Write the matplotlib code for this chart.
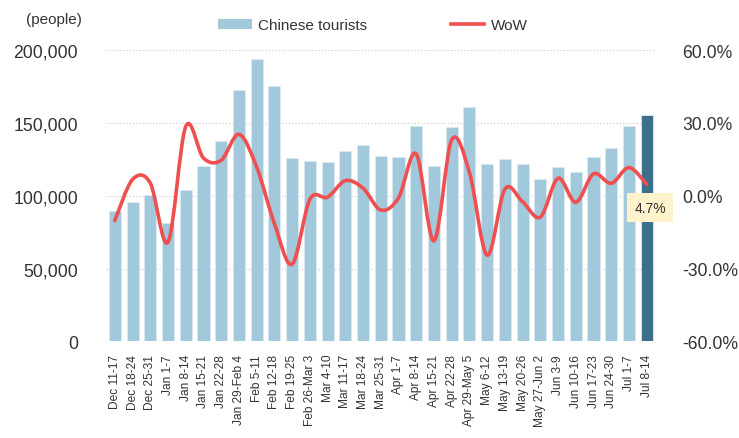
import numpy as np
import matplotlib
matplotlib.use("Agg")
from matplotlib import pyplot as plt
from matplotlib.path import Path
from matplotlib.patches import PathPatch, Patch
from matplotlib.lines import Line2D
from matplotlib.ticker import FuncFormatter

plt.rcParams['font.family'] = ['Liberation Sans', 'DejaVu Sans']

# weekly data
weeks = ["Dec 11-17", "Dec 18-24", "Dec 25-31", "Jan 1-7", "Jan 8-14", "Jan 15-21",
         "Jan 22-28", "Jan 29-Feb 4", "Feb 5-11", "Feb 12-18", "Feb 19-25",
         "Feb 26-Mar 3", "Mar 4-10", "Mar 11-17", "Mar 18-24", "Mar 25-31",
         "Apr 1-7", "Apr 8-14", "Apr 15-21", "Apr 22-28", "Apr 29-May 5",
         "May 6-12", "May 13-19", "May 20-26", "May 27-Jun 2", "Jun 3-9",
         "Jun 10-16", "Jun 17-23", "Jun 24-30", "Jul 1-7", "Jul 8-14"]
tourists = [89600, 95600, 100600, 81400, 104100, 120100, 137400, 172400, 193700,
            175600, 125800, 123500, 122800, 130600, 134900, 127200, 126300, 147900,
            120100, 147100, 161000, 121700, 124900, 121900, 111200, 119400, 116000,
            126300, 132600, 147900, 155100]
wow = [-10.2, 6.7, 5.2, -19.1, 28.5, 15.5, 14.6, 25.3, 11.8, -11.5, -28.2, -1.5,
       -0.6, 6.2, 3.1, -5.9, -0.9, 17.2, -18.6, 23.0, 9.6, -24.5, 2.7, -2.5, -8.8,
       7.2, -2.7, 9.0, 5.1, 11.6, 4.7]

left_ticks = [0, 50000, 100000, 150000, 200000]
right_ticks = [-60, -30, 0, 30, 60]

bar_color = "#a2c8dc"
last_color = "#3d6e8c"
line_color = "#ef4f4f"
text_color = "#333333"

fig = plt.figure(figsize=(7.39, 4.39), dpi=100)
ax = fig.add_axes([0.1434, 0.22, 0.7437, 0.6638])
ax2 = ax.twinx()

x = np.arange(len(weeks))
colors = [bar_color] * (len(weeks) - 1) + [last_color]
ax.bar(x, tourists, width=0.68, color=colors, edgecolor="#dbe9f0", linewidth=0.6, zorder=2)

ax.set_xlim(-0.5, len(weeks) - 0.5)
ax.set_ylim(0, 200000)
ax.set_yticks(left_ticks)
ax.yaxis.set_major_formatter(FuncFormatter(lambda v, p: f"{v:,.0f}"))
ax.grid(axis="y", color="#cfcfcf", linestyle=":", linewidth=0.9, zorder=0)
ax.set_axisbelow(True)
ax.set_xticks(x)
ax.set_xticklabels(weeks, rotation=90, fontsize=8.6, color=text_color)
ax.tick_params(axis="x", length=0, pad=9)
ax.tick_params(axis="y", length=0, pad=20, labelsize=12.7, labelcolor=text_color)

# smooth WoW line through the points (bezier, like spreadsheet smoothing)
pts = np.column_stack([x, np.array(wow) / 100.0])
verts = [pts[0]]
codes = [Path.MOVETO]
n = len(pts)
for i in range(n - 1):
    p0 = pts[i - 1] if i > 0 else pts[i]
    p1 = pts[i]
    p2 = pts[i + 1]
    p3 = pts[i + 2] if i + 2 < n else pts[i + 1]
    verts += [p1 + (p2 - p0) / 6.0, p2 - (p3 - p1) / 6.0, p2]
    codes += [Path.CURVE4] * 3
ax2.add_patch(PathPatch(Path(verts, codes), fill=False, edgecolor=line_color,
                        linewidth=2.6, capstyle="round", joinstyle="round", zorder=3))

ax2.set_ylim(-0.6, 0.6)
ax2.set_yticks([t / 100.0 for t in right_ticks])
ax2.yaxis.set_major_formatter(FuncFormatter(lambda v, p: f"{v*100:.1f}%"))
ax2.tick_params(axis="y", length=0, pad=19.4, labelsize=12.7, labelcolor=text_color)

for a in (ax, ax2):
    for s in a.spines.values():
        s.set_visible(False)

ax2.annotate(f"{wow[-1]:.1f}%", xy=(x[-1], wow[-1] / 100.0), xytext=(2.4, -16.8),
             textcoords="offset points", ha="center", va="center", fontsize=10,
             color=text_color, zorder=5,
             bbox=dict(boxstyle="square,pad=0.55", facecolor="#fff2cc", edgecolor="none"))

fig.text(82 / 739, 1 - 20 / 439, "(people)", ha="right", va="center", fontsize=11,
         color=text_color)

handles = [Patch(facecolor=bar_color, edgecolor="none"),
           Line2D([0], [0], color=line_color, linewidth=2.6)]
fig.legend(handles, ["Chinese tourists", "WoW"], loc="upper left",
           bbox_to_anchor=(218 / 739, 1 - 19 / 439), ncol=2, frameon=False,
           fontsize=11, handlelength=2.2, handleheight=0.65, handletextpad=0.4,
           columnspacing=5.5, borderpad=0, borderaxespad=0, labelcolor=text_color)

fig.savefig("out.png", dpi=100)
